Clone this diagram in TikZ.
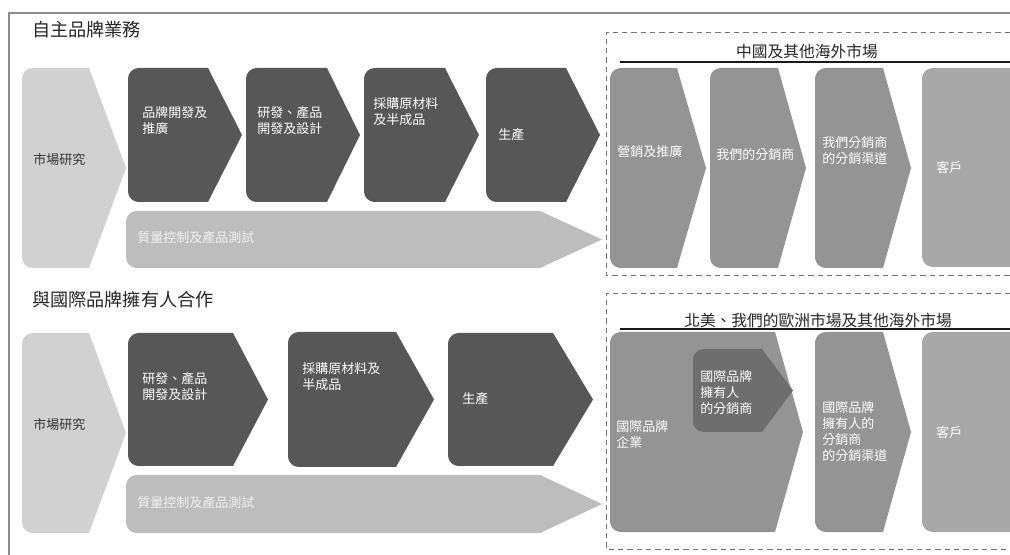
\documentclass[tikz,border=0pt]{standalone}
\usepackage{fontspec}
\setmainfont{Noto Sans CJK TC}
\usepackage{tikz}

\begin{document}
\begin{tikzpicture}[x=0.75pt, y=-0.75pt,
    every node/.style={inner sep=0pt, font=\fontsize{9.75}{12}\selectfont},
    lbl/.style={anchor=west, align=left, text=white},
    mktlbl/.style={anchor=west, text=black!80},
    qclbl/.style={anchor=west, text=black!6},
    ttl/.style={anchor=west, text=black!85, font=\fontsize{13.6}{16}\selectfont},
    hdr/.style={text=black!85, font=\fontsize{11.8}{14}\selectfont}]
    \useasboundingbox (0,0) rectangle (1010,555);
    % chevron: left, top, bottom, corner x, tip x, fill (left corners rounded)
    \newcommand{\chev}[6]{
      \fill[#6] (#5,{(#2+#3)/2}) -- (#4,#3) [rounded corners=8] -- (#1,#3) -- (#1,#2) [sharp corners] -- (#4,#2) -- cycle;
    }
    % outer frame, open on the right and at the bottom
    \draw[black!45, line width=1.2pt] (9,555) -- (9,13) -- (1010,13);
    % Row 1: own brands
    \node[ttl] (t1) at (32,30) {自主品牌業務};
    \chev{22}{68}{268}{89}{126}{black!18}
    \chev{128}{68}{202}{208}{242}{black!66}
    \chev{246}{68}{202}{327}{360}{black!66}
    \chev{364}{68}{202}{445}{479}{black!66}
    \chev{486}{68}{202}{566}{600}{black!66}
    \chev{126}{211}{268}{540}{602}{black!26}
    \node[mktlbl] (m1) at (33,160) {市場研究};
    \node[lbl] (b1) at (142,120.5) {品牌開發及\\推廣};
    \node[lbl] (r1) at (257,120.5) {研發、產品\\開發及設計};
    \node[lbl] (p1) at (373,111.5) {採購原材料\\及半成品};
    \node[lbl] (s1) at (498,135) {生產};
    \node[qclbl] (q1) at (137,238) {質量控制及產品測試};
    % Row 1: market box
    \draw[black!55, dash pattern=on 4pt off 3pt] (1010,32) -- (606,32) -- (606,275) -- (1010,275);
    \node[hdr] (h1) at (807,52) {中國及其他海外市場};
    \draw[black!90, line width=0.8pt] (620,62) -- (1010,62);
    \chev{610}{68}{268}{677}{706}{black!42}
    \chev{710}{68}{268}{778}{806}{black!42}
    \chev{815}{68}{268}{883}{911}{black!42}
    \chev{922}{68}{267}{1010}{1010}{black!34}
    \node[lbl] (k1) at (617,152) {營銷及推廣};
    \node[lbl] (d1) at (716,155) {我們的分銷商};
    \node[lbl] (c1) at (822,150.5) {我們分銷商\\的分銷渠道};
    \node[lbl] (u1) at (936,168) {客戶};
    % Row 2: brand owners
    \node[ttl] (t2) at (32,300) {與國際品牌擁有人合作};
    \chev{22}{333}{533}{89}{126}{black!18}
    \chev{128}{333}{466}{233}{268}{black!66}
    \chev{288}{332}{467}{396}{434}{black!66}
    \chev{448}{333}{466}{553}{593}{black!66}
    \chev{126}{475}{533}{540}{602}{black!26}
    \node[mktlbl] (m2) at (33,425) {市場研究};
    \node[lbl] (r2) at (142,386.5) {研發、產品\\開發及設計};
    \node[lbl] (p2) at (302,376.5) {採購原材料及\\半成品};
    \node[lbl] (s2) at (462,399) {生產};
    \node[qclbl] (q2) at (137,503) {質量控制及產品測試};
    % Row 2: market box
    \draw[black!55, dash pattern=on 4pt off 3pt] (1010,293) -- (606,293) -- (606,549) -- (1010,549);
    \node[hdr] (h2) at (818,321) {北美、我們的歐洲市場及其他海外市場};
    \draw[black!90, line width=0.8pt] (620,329) -- (1010,329);
    \chev{610}{332}{532}{775}{803}{black!42}
    \chev{693}{349}{432}{762}{793}{black!57}
    \chev{815}{332}{532}{883}{911}{black!42}
    \chev{922}{332}{532}{1010}{1010}{black!34}
    \node[lbl] (e2) at (616,435) {國際品牌\\企業};
    \node[lbl] (i2) at (700,393) {國際品牌\\擁有人\\的分銷商};
    \node[lbl] (c2) at (822,432) {國際品牌\\擁有人的\\分銷商\\的分銷渠道};
    \node[lbl] (u2) at (936,433) {客戶};
\end{tikzpicture}
\end{document}
